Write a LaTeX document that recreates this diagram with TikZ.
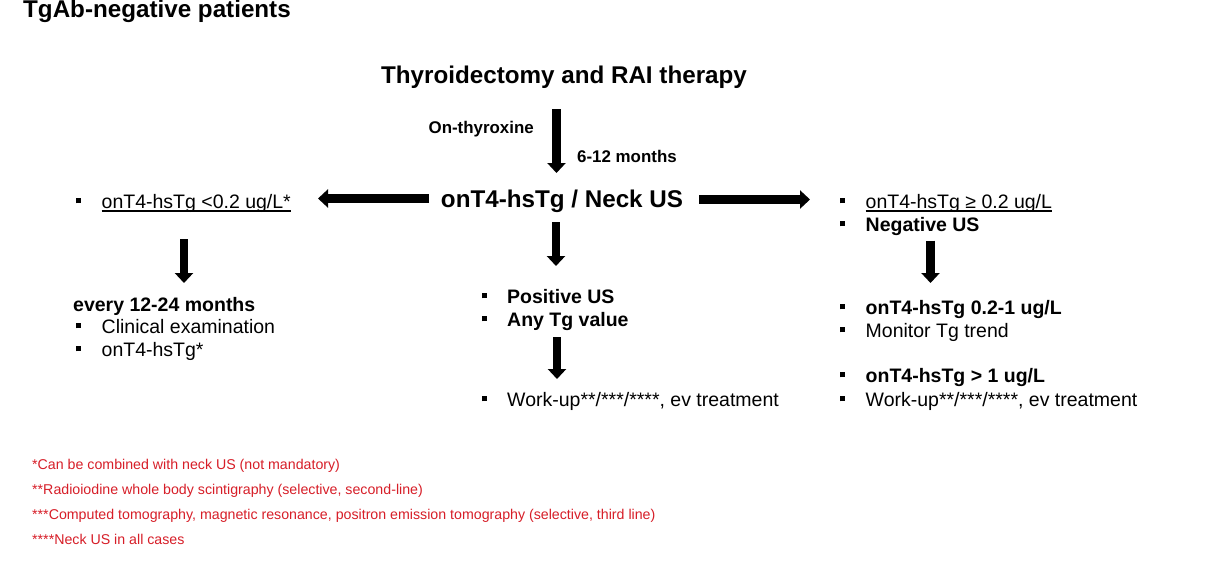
\documentclass[tikz,border=0pt]{standalone}
\usepackage{fontspec}
\setmainfont{Liberation Sans}
\usetikzlibrary{arrows.meta}
\definecolor{fnred}{RGB}{215,30,40}
\tikzset{
  txt/.style={inner sep=0pt, anchor=base west},
  big/.style={font=\fontsize{24.2}{28}\selectfont\bfseries},
  body/.style={font=\fontsize{19.5}{23}\selectfont},
  bodyb/.style={font=\fontsize{19.5}{23}\selectfont\bfseries},
  small/.style={font=\fontsize{16.9}{20}\selectfont\bfseries},
  foot/.style={font=\fontsize{14.2}{16}\selectfont, text=fnred},
  blockarrow/.style={line width=8.5pt, -{Triangle[width=18pt,length=10pt]}},
  uline/.style={line width=1.2pt},
}
\newcommand\bul{\makebox[25.5pt][l]{\rule[4.7pt]{5pt}{5pt}}}
\begin{document}
\begin{tikzpicture}[x=1pt,y=-1pt]
\useasboundingbox[fill=white] (0,0) rectangle (1205,563);
% headings
\node[txt,big] (hdr) at (23,17) {TgAb-negative patients};
\node[txt,big,anchor=base] (thy) at (564,83) {Thyroidectomy and RAI therapy};
\node[txt,small,anchor=base east] (onthy) at (534,133) {On-thyroxine};
\node[txt,small] (mon) at (577,162) {6-12 months};
\node[txt,big,anchor=base] (us) at (562,207) {onT4-hsTg / Neck US};
% left column
\node[txt,body] (l1) at (76,208) {\bul onT4-hsTg <0.2 ug/L*};
\node[txt,bodyb] (l2) at (73,311) {every 12-24 months};
\node[txt,body] (l3) at (76,333) {\bul Clinical examination};
\node[txt,body] (l4) at (76,356) {\bul onT4-hsTg*};
% centre column
\node[txt,bodyb] (c1) at (481.5,303) {\bul Positive US};
\node[txt,bodyb] (c2) at (481.5,326) {\bul Any Tg value};
\node[txt,body] (c3) at (481.5,406) {\bul Work-up**/***/****, ev treatment};
% right column
\node[txt,body] (r1) at (840,208) {\bul onT4-hsTg ≥ 0.2 ug/L};
\node[txt,bodyb] (r2) at (840,231) {\bul Negative US};
\node[txt,bodyb] (r3) at (840,314) {\bul onT4-hsTg 0.2-1 ug/L};
\node[txt,body] (r4) at (840,337) {\bul Monitor Tg trend};
\node[txt,bodyb] (r5) at (840,382) {\bul onT4-hsTg > 1 ug/L};
\node[txt,body] (r6) at (840,406) {\bul Work-up**/***/****, ev treatment};
% underlines
\draw[uline] ([xshift=25.5pt,yshift=-3pt]l1.base west) -- ([yshift=-3pt]l1.base east);
\draw[uline] ([xshift=25.5pt,yshift=-3pt]r1.base west) -- ([yshift=-3pt]r1.base east);
% footnotes
\node[txt,foot] (f1) at (32,469) {*Can be combined with neck US (not mandatory)};
\node[txt,foot] (f2) at (32,494) {**Radioiodine whole body scintigraphy (selective, second-line)};
\node[txt,foot] (f3) at (32,519) {***Computed tomography, magnetic resonance, positron emission tomography (selective, third line)};
\node[txt,foot] (f4) at (32,544) {****Neck US in all cases};
% arrow ends
\coordinate (a1s) at (556.5,109);  \coordinate (a1e) at (556.5,173);
\coordinate (a2s) at (429,198.5);  \coordinate (a2e) at (318,198.5);
\coordinate (a3s) at (699,199.5);  \coordinate (a3e) at (810,199.5);
\coordinate (a4s) at (556,222);    \coordinate (a4e) at (556,266);
\coordinate (a5s) at (184,239);    \coordinate (a5e) at (184,283);
\coordinate (a6s) at (930.5,240.5);\coordinate (a6e) at (930.5,283);
\coordinate (a7s) at (557,337);    \coordinate (a7e) at (557,379);
\foreach \i in {1,...,7} {\draw[blockarrow] (a\i s) -- (a\i e);}
\end{tikzpicture}
\end{document}
